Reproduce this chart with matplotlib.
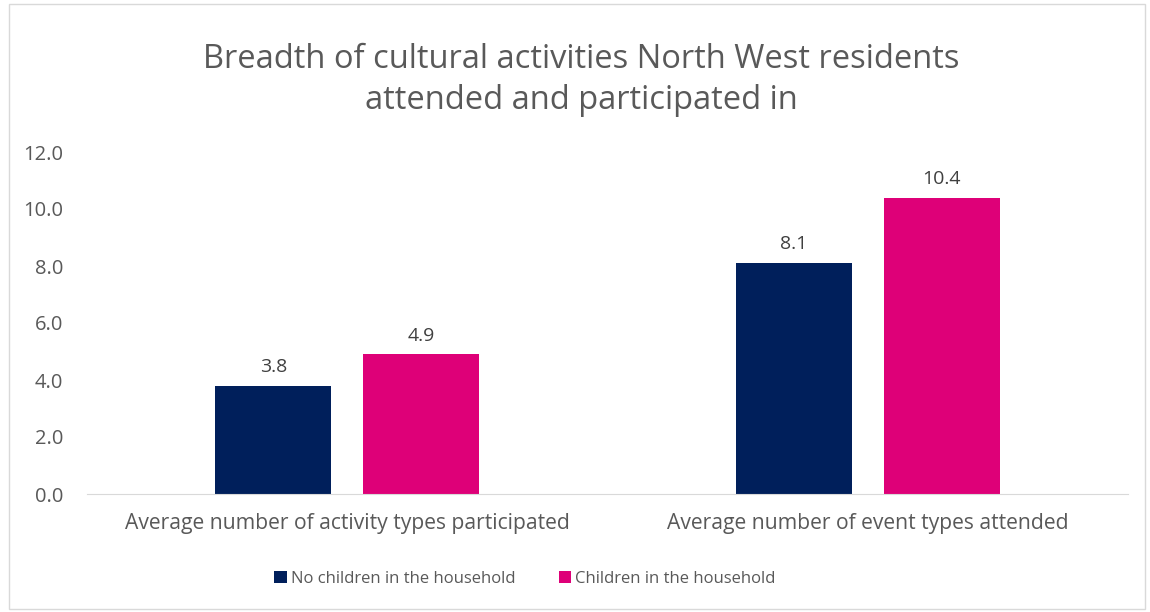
import matplotlib
matplotlib.use("Agg")
import matplotlib.pyplot as plt
import numpy as np
from matplotlib.patches import Rectangle

categories = ["Average number of activity types participated", "Average number of event types attended"]
series_names = ["No children in the household", "Children in the household"]
no_children = [3.8, 8.1]
children = [4.9, 10.4]
colors = ["#001F5B", "#DE0078"]
yticks = [0, 2, 4, 6, 8, 10, 12]

plt.rcParams['font.family'] = ['Open Sans', 'DejaVu Sans']

fig = plt.figure(figsize=(11.5, 6.12), dpi=100)
fig.patches.append(Rectangle((9/1150, 3/612), 1136/1150, 605/612, transform=fig.transFigure,
                             fill=False, edgecolor="#D9D9D9", linewidth=1))
ax = fig.add_axes([87/1150, 1-494/612, (1128-87)/1150, (494-152)/612])

x = np.arange(len(categories))
w = 0.223
off = 0.142
b1 = ax.bar(x - off, no_children, w, color=colors[0], label=series_names[0])
b2 = ax.bar(x + off, children, w, color=colors[1], label=series_names[1])
for bars, vals in ((b1, no_children), (b2, children)):
    for r, v in zip(bars, vals):
        ax.annotate(f"{v:.1f}", (r.get_x() + r.get_width()/2, v), xytext=(0, 7),
                    textcoords="offset points", ha="center", va="bottom", fontsize=14, color="#404040")

ax.set_xlim(-0.5, 1.5)
ax.set_ylim(0, 12)
ax.set_yticks(yticks)
ax.set_yticklabels([f"{t:.1f}" for t in yticks])
ax.set_xticks(x)
ax.set_xticklabels(categories)
ax.tick_params(axis='y', length=0, labelsize=14.5, colors="#595959", pad=17)
ax.tick_params(axis='x', length=0, labelsize=15.2, colors="#595959", pad=14)
for s in ["top", "right", "left"]:
    ax.spines[s].set_visible(False)
ax.spines["bottom"].set_color("#D9D9D9")

fig.text(581/1150, 1-80/612, "Breadth of cultural activities North West residents\nattended and participated in",
         ha="center", va="center", fontsize=23.5, color="#595959", linespacing=1.3)

leg = fig.legend(loc="center", bbox_to_anchor=(525/1150, 1-579/612), ncol=2, frameon=False,
                 fontsize=12, handlelength=0.75, handleheight=0.75, columnspacing=2.6, handletextpad=0.25)
for t in leg.get_texts():
    t.set_color("#595959")

fig.savefig("out.png", dpi=100)
